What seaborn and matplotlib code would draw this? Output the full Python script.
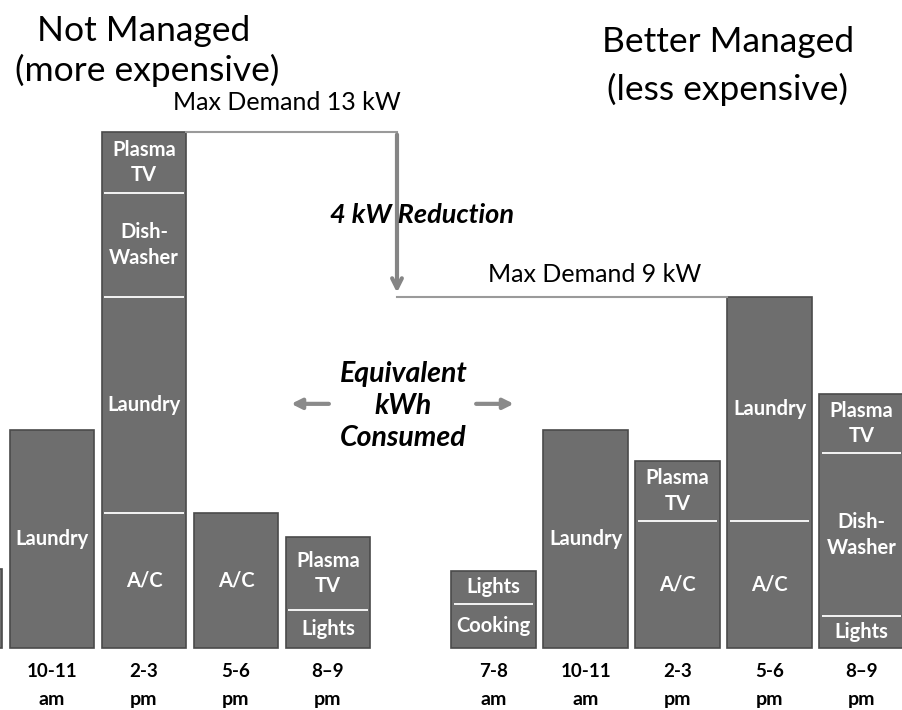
# peak demand: same appliances, two schedules, drawn as stacked bars

import matplotlib
matplotlib.use("Agg")
import matplotlib.pyplot as plt
import seaborn as sns
import pandas as pd

# slot positions (bar centres) for each schedule
left_pos = [0, 1, 2, 3, 4]
right_pos = [5.8, 6.8, 7.8, 8.8, 9.8]
hours = ["7-8", "10-11", "2-3", "5-6", "8\u20139"]
ampm = ["am", "am", "pm", "pm", "pm"]

# segments per bar, bottom to top: (label, kW)
not_managed = [
    [("Cooking", 1.1), ("Lights", 0.9)],
    [("Laundry", 5.5)],
    [("A/C", 3.4), ("Laundry", 5.45), ("Dish-\nWasher", 2.6), ("Plasma\nTV", 1.55)],
    [("A/C", 3.4)],
    [("Lights", 0.95), ("Plasma\nTV", 1.85)],
]
better_managed = [
    [("Cooking", 1.1), ("Lights", 0.85)],
    [("Laundry", 5.5)],
    [("A/C", 3.2), ("Plasma\nTV", 1.5)],
    [("A/C", 3.2), ("Laundry", 5.65)],
    [("Lights", 0.8), ("Dish-\nWasher", 4.1), ("Plasma\nTV", 1.5)],
]

max_before = 13
max_after = 9

rows = []
for pos, segs in zip(left_pos + right_pos, not_managed + better_managed):
    rows.append({"pos": pos, "total": sum(v for _, v in segs), "segs": segs})
df = pd.DataFrame(rows)

plt.rcParams["font.family"] = ["Lato", "DejaVu Sans"]

fig = plt.figure(figsize=(9.03, 7.10), dpi=100)
ax = fig.add_axes([0, 0, 1, 1])
x_lo, x_hi = 0.435, 10.25

bar_w = 0.92
sns.barplot(x="pos", y="total", data=df, native_scale=True, width=bar_w,
            color="#6e6e6e", edgecolor="#4a4a4a", linewidth=1.2,
            saturation=1, ax=ax)

# white separators and labels inside each bar
for _, r in df.iterrows():
    base = 0
    segs = r["segs"]
    for i, (lab, v) in enumerate(segs):
        if r["pos"] > x_lo:  # first bar sits mostly off the left edge
            ax.text(r["pos"], base + v / 2, lab, color="white", fontsize=14.5,
                    fontweight="bold", ha="center", va="center",
                    linespacing=1.35, clip_on=True)
        base += v
        if i < len(segs) - 1:
            ax.hlines(base, r["pos"] - bar_w / 2 + 0.03, r["pos"] + bar_w / 2 - 0.03,
                      color="white", lw=1.3)

# time labels under the bars
for pos, h, ap in zip(left_pos + right_pos, hours + hours, ampm + ampm):
    if pos < x_lo:
        continue
    ax.text(pos, -0.6, h, ha="center", va="center", fontsize=13.5,
            fontweight="bold")
    ax.text(pos, -1.3, ap, ha="center", va="center", fontsize=14,
            fontweight="bold")

# max demand lines and reduction arrow
x_arrow = 4.75
ax.plot([2 + bar_w / 2, x_arrow], [max_before, max_before], color="#9a9a9a", lw=1.5)
ax.plot([x_arrow, right_pos[3] - bar_w / 2], [max_after - 0.15, max_after - 0.15],
        color="#9a9a9a", lw=1.5)
ax.annotate("", xy=(x_arrow, max_after - 0.12), xytext=(x_arrow, max_before),
            arrowprops=dict(arrowstyle="->,head_length=0.7,head_width=0.35",
                            color="#858585", lw=3))

ax.text(5.02, 10.9, "4 kW Reduction", fontsize=19.5, fontweight="bold",
        style="italic", ha="center", va="center")
ax.text(3.55, 13.73, "Max Demand 13 kW", fontsize=18, ha="center", va="center")
ax.text(6.9, 9.4, "Max Demand 9 kW", fontsize=18, ha="center", va="center")

ax.text(4.82, 6.1, "Equivalent\nkWh\nConsumed", fontsize=20.5, fontweight="bold",
        style="italic", ha="center", va="center", linespacing=1.3)
ax.annotate("", xy=(3.57, 6.15), xytext=(4.04, 6.15),
            arrowprops=dict(arrowstyle="-|>,head_length=0.6,head_width=0.3",
                            color="#8a8a8a", lw=3))
ax.annotate("", xy=(6.05, 6.15), xytext=(5.58, 6.15),
            arrowprops=dict(arrowstyle="-|>,head_length=0.6,head_width=0.3",
                            color="#8a8a8a", lw=3))

# headings
ax.text(2.0, 15.55, "Not Managed", fontsize=25.5, ha="center", va="center")
ax.text(2.03, 14.55, "(more expensive)", fontsize=25.5, ha="center", va="center")
ax.text(8.35, 15.27, "Better Managed", fontsize=25.5, ha="center", va="center")
ax.text(8.34, 14.08, "(less expensive)", fontsize=25.5, ha="center", va="center")

ax.set_xlim(x_lo, x_hi)
ax.set_ylim(-1.56, 16.32)
ax.axis("off")

fig.savefig("out.png", dpi=100)
